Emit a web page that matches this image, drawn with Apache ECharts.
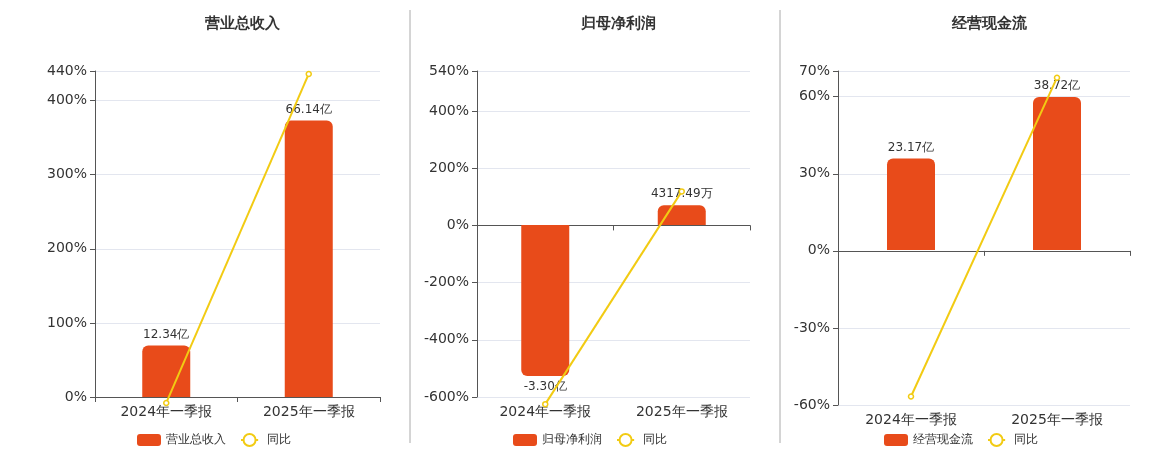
<!DOCTYPE html>
<html><head><meta charset="utf-8">
<script src="https://cdn.jsdelivr.net/npm/echarts@6/dist/echarts.min.js"></script>
<style>html,body{margin:0;padding:0;background:#fff}#c{width:1160px;height:450px}</style>
</head><body><div id="c"></div>
<script>
const categories = ['2024年一季报', '2025年一季报'];
const titles = ['营业总收入', '归母净利润', '经营现金流'];
const barValues1 = [12.34, 66.14];
const barLabels1 = ['12.34亿', '66.14亿'];
const yoy1 = [-8, 436];
const barValues2 = [-3.30, 0.4317];
const barLabels2 = ['-3.30亿', '4317.49万'];
const yoy2 = [-625, 119];
const barValues3 = [23.17, 38.72];
const barLabels3 = ['23.17亿', '38.72亿'];
const yoy3 = [-56.7, 67.4];
const pctAxes = [{min:0,max:440,interval:100},{min:-600,max:540,interval:200},{min:-60,max:70,interval:30}];
const barAxes = [{min:0,max:78},{min:-3.76,max:3.37},{min:-39.2,max:45.3}];

const BAR='#E84B1A', LINE='#F2CB13';
const font='DejaVu Sans';
const grids=[{left:95,width:285,top:71,bottom:53},{left:477,width:273,top:71,bottom:53},{left:838,width:292,top:71,bottom:45}];
const bars=[barValues1,barValues2,barValues3], labs=[barLabels1,barLabels2,barLabels3], yoys=[yoy1,yoy2,yoy3];
const xAxis=[],yAxis=[],series=[],legend=[],title=[];
const centers=[237,613,984];
for(let i=0;i<3;i++){
  xAxis.push({type:'category',gridIndex:i,data:categories,axisLine:{onZero:true,lineStyle:{color:'#555'}},axisTick:{show:true,lineStyle:{color:'#555'}},axisLabel:{color:'#333',fontSize:14,fontFamily:font,margin:8},
    position:'bottom'});
  yAxis.push({type:'value',gridIndex:i,min:pctAxes[i].min,max:pctAxes[i].max,interval:pctAxes[i].interval,
    axisLine:{show:true,lineStyle:{color:'#555'}},axisTick:{show:true},axisLabel:{formatter:'{value}%',color:'#333',fontSize:14,fontFamily:font,showMaxLabel:true},
    splitLine:{lineStyle:{color:'#e3e6ef'}}});
  yAxis.push({type:'value',gridIndex:i,min:barAxes[i].min,max:barAxes[i].max,show:false,splitLine:{show:false}});
  const L=labs[i];
  series.push({name:titles[i],type:'bar',xAxisIndex:i,yAxisIndex:2*i+1,barWidth:48,
    data:bars[i].map((v,k)=>({value:v,label:{position:v<0?'bottom':'top'},itemStyle:{borderRadius:v<0?[0,0,6,6]:[6,6,0,0]}})),
    itemStyle:{color:BAR},label:{show:true,color:'#333',fontSize:12,fontFamily:font,formatter:p=>L[p.dataIndex]}});
  series.push({name:'同比',type:'line',xAxisIndex:i,yAxisIndex:2*i,data:yoys[i],clip:false,symbol:'circle',symbolSize:5,
    itemStyle:{color:'#fff',borderColor:LINE,borderWidth:1.5},lineStyle:{color:LINE,width:2},z:5});
  legend.push({data:[{name:titles[i],icon:'roundRect',itemStyle:{color:BAR}},{name:'同比',icon:'path://M0,5L3,5A7,7 0 1 1 17,5L20,5L17,5A7,7 0 1 1 3,5Z',itemStyle:{color:'#fff',borderColor:LINE,borderWidth:2}}],
    left:centers[i]-105,top:428,itemWidth:24,itemHeight:12,itemGap:14,textStyle:{color:'#333',fontSize:12,fontFamily:font}});
  title.push({text:titles[i],left:centers[i],textAlign:'center',top:12,textStyle:{fontSize:15,fontWeight:'bold',color:'#333',fontFamily:font}});
}
const chart=echarts.init(document.getElementById('c'));
chart.setOption({animation:false,title,grid:grids,xAxis,yAxis,series,legend,
  graphic:[{type:'line',shape:{x1:410,y1:10,x2:410,y2:443},style:{stroke:'#aaa',lineWidth:1}},
           {type:'line',shape:{x1:780,y1:10,x2:780,y2:443},style:{stroke:'#aaa',lineWidth:1}}]});
</script></body></html>
